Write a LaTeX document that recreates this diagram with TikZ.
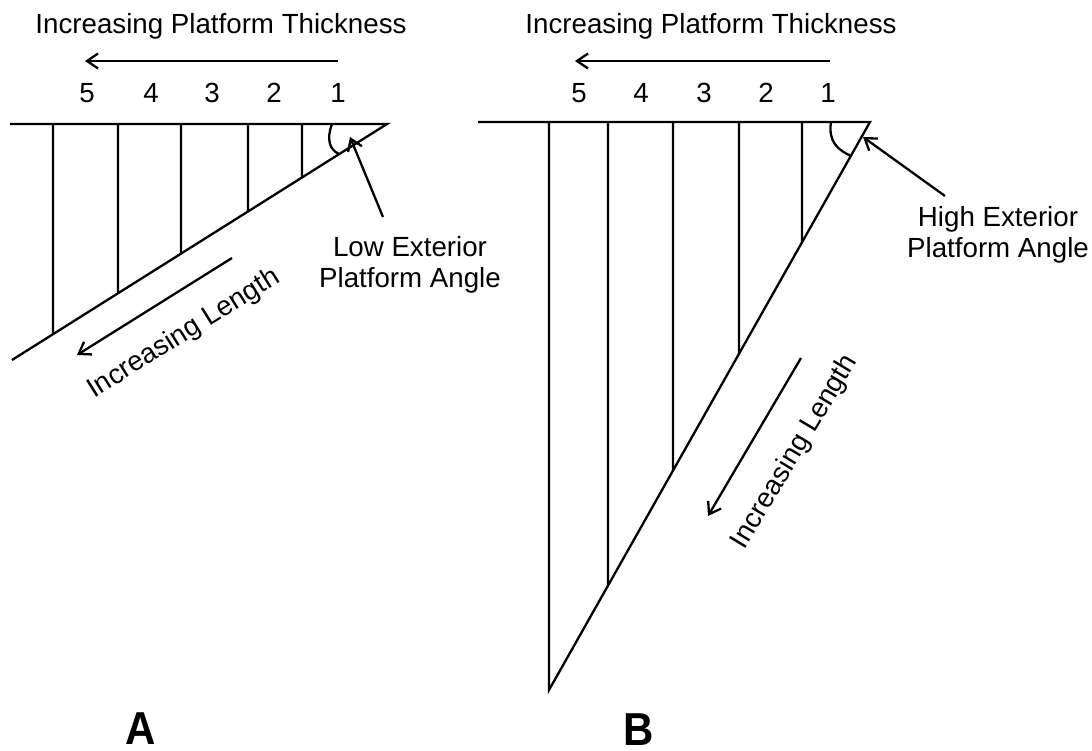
\documentclass[tikz,border=0pt]{standalone}
\usepackage{fontspec}
\setmainfont{Liberation Sans}
\usetikzlibrary{arrows.meta,calc}
\begin{document}
\begin{tikzpicture}[x=1pt,y=-1pt,
  edge/.style={draw, line width=2.3pt},
  arr/.style={draw, line width=2.3pt, -{Straight Barb[length=11pt,width=15pt]}},
  lbl/.style={font=\fontsize{27.7}{31}\selectfont, inner sep=0pt},
  big/.style={font=\fontsize{42}{42}\bfseries\selectfont, inner sep=0pt}]
\useasboundingbox (0,0) rectangle (1092,751);

% ---------------- Panel A ----------------
\node[lbl, anchor=base] (tA) at (221,34) {Increasing Platform Thickness};
\coordinate (tAs) at (338,61);
\coordinate (tAe) at (85,61);
\draw[arr] (tAs) -- (tAe);
\node[lbl, anchor=base] (a5n) at (87,103) {5};
\node[lbl, anchor=base] (a4n) at (151,103) {4};
\node[lbl, anchor=base] (a3n) at (212,103) {3};
\node[lbl, anchor=base] (a2n) at (274,103) {2};
\node[lbl, anchor=base] (a1n) at (338,103) {1};

\coordinate (aL) at (10,124);
\coordinate (aV) at (387,124);
\coordinate (aB) at (12,360);
\draw[edge] (aL) -- (aV) -- (aB);
\foreach \x in {53,118,181,248,302}{
  \coordinate (at\x) at (\x,124);
  \coordinate (ab\x) at ($(aV)!{(387-\x)/375}!(aB)$);
  \draw[edge] (at\x) -- (ab\x);
}
\draw[line width=2.3pt] (332,124) .. controls (326,140) and (330,150) .. (339,154);

\node[lbl, align=center] (lowlbl) at (410,265) {Low Exterior\\Platform Angle};
\coordinate (lowS) at (383,217);
\coordinate (lowE) at (350,137);
\draw[arr] (lowS) -- (lowE);

\coordinate (ilAs) at (232,258);
\coordinate (ilAe) at (77,355);
\draw[arr] (ilAs) -- (ilAe);
\node[lbl, rotate=32] (ilA) at (184,334) {Increasing Length};

\node[big, anchor=north] (capA) at (141,713) {\scalebox{1}[1.1]{A}};

% ---------------- Panel B ----------------
\node[lbl, anchor=base] (tB) at (711,34) {Increasing Platform Thickness};
\coordinate (tBs) at (830,61);
\coordinate (tBe) at (575,61);
\draw[arr] (tBs) -- (tBe);
\node[lbl, anchor=base] (b5n) at (579,103) {5};
\node[lbl, anchor=base] (b4n) at (641,103) {4};
\node[lbl, anchor=base] (b3n) at (704,103) {3};
\node[lbl, anchor=base] (b2n) at (766,103) {2};
\node[lbl, anchor=base] (b1n) at (828,103) {1};

\coordinate (bL) at (478,122);
\coordinate (bV) at (870,122);
\coordinate (bB) at (549,690);
\coordinate (bT) at (549,122);
\draw[edge] (bL) -- (bV) -- (bB) -- (bT);
\foreach \x in {608,673,739,802}{
  \coordinate (bt\x) at (\x,122);
  \coordinate (bb\x) at ($(bV)!{(870-\x)/321}!(bB)$);
  \draw[edge] (bt\x) -- (bb\x);
}
\draw[line width=2.3pt] (831,122) .. controls (828,142) and (838,150) .. (851,156);

\node[lbl, align=center] (highlbl) at (998,235) {High Exterior\\Platform Angle};
\coordinate (highS) at (945,196);
\coordinate (highE) at (863,137);
\draw[arr] (highS) -- (highE);

\coordinate (ilBs) at (801,358);
\coordinate (ilBe) at (708,516);
\draw[arr] (ilBs) -- (ilBe);
\node[lbl, rotate=59] (ilB) at (795,452) {Increasing Length};

\node[big, anchor=north] (capB) at (639,714) {\scalebox{1}[1.1]{B}};
\end{tikzpicture}
\end{document}
